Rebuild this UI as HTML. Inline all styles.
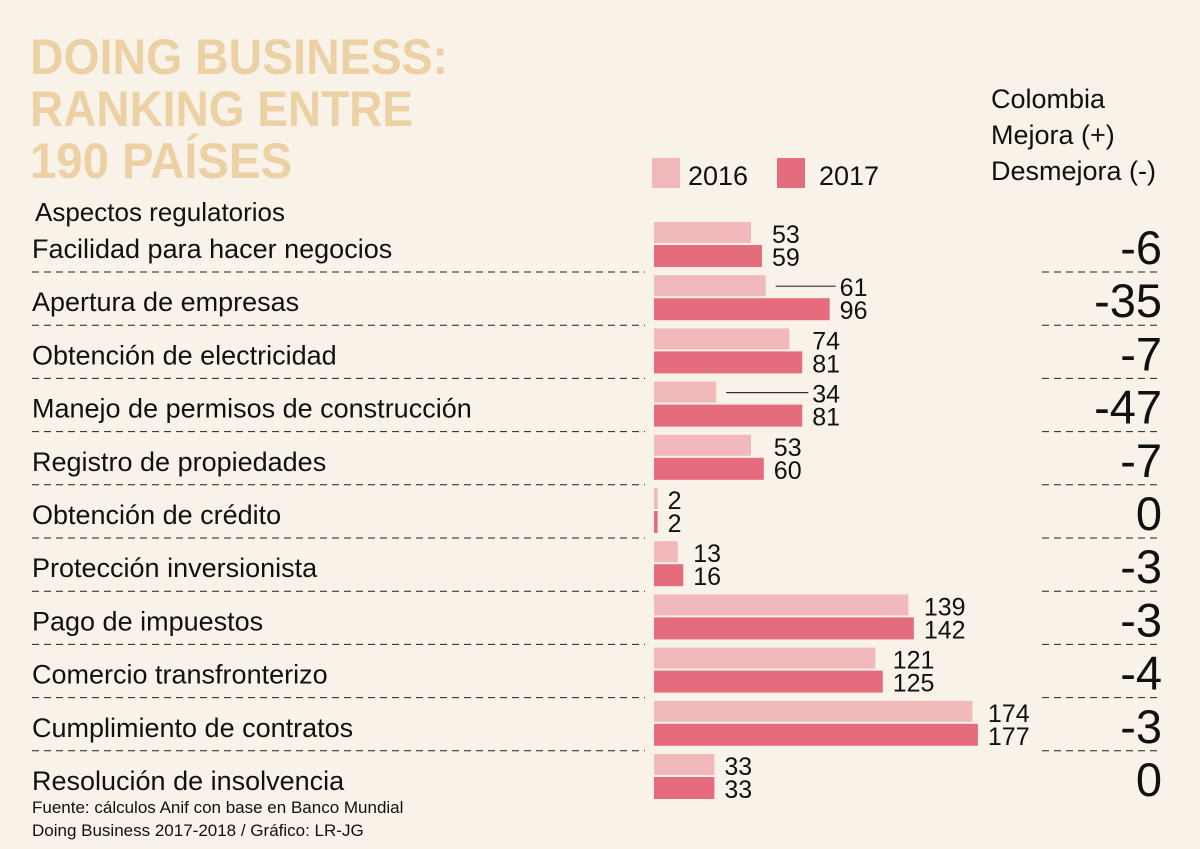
<!DOCTYPE html>
<html><head><meta charset="utf-8"><style>
body{margin:0;background:#f8f2e9}
svg{display:block}
text{font-family:"Liberation Sans",sans-serif;fill:#111}
</style></head><body>
<svg id="c" width="1200" height="849" viewBox="0 0 1200 849">
<rect width="1200" height="849" fill="#f8f2e9"/>
<g>
<text x="30" y="74" font-size="50" textLength="418" lengthAdjust="spacingAndGlyphs" style="fill:#ebd1a3;font-weight:bold">DOING BUSINESS:</text>
<text x="30" y="126" font-size="50" textLength="383" lengthAdjust="spacingAndGlyphs" style="fill:#ebd1a3;font-weight:bold">RANKING ENTRE</text>
<text x="30" y="178" font-size="50" textLength="262" lengthAdjust="spacingAndGlyphs" style="fill:#ebd1a3;font-weight:bold">190 PAÍSES</text>
</g>
<text x="35" y="221" font-size="26">Aspectos regulatorios</text>
<g>
<rect x="652" y="158" width="28" height="30" fill="#f2b9bd"/>
<text x="688" y="185" font-size="27">2016</text>
<rect x="777" y="158" width="28" height="30" fill="#e56c7d"/>
<text x="819" y="185" font-size="27">2017</text>
</g>
<g font-size="27">
<text x="991" y="108">Colombia</text>
<text x="991" y="144">Mejora (+)</text>
<text x="991" y="180">Desmejora (-)</text>
</g>
<g id="rows"></g>
<g font-size="17">
<text x="32" y="813">Fuente: cálculos Anif con base en Banco Mundial</text>
<text x="32" y="836">Doing Business 2017-2018 / Gráfico: LR-JG</text>
</g>
</svg>
<script>
const categories=["Facilidad para hacer negocios","Apertura de empresas","Obtención de electricidad","Manejo de permisos de construcción","Registro de propiedades","Obtención de crédito","Protección inversionista","Pago de impuestos","Comercio transfronterizo","Cumplimiento de contratos","Resolución de insolvencia"];
const values2016=[53,61,74,34,53,2,13,139,121,174,33];
const values2017=[59,96,81,81,60,2,16,142,125,177,33];
const changes=["-6","-35","-7","-47","-7","0","-3","-3","-4","-3","0"];
const NS="http://www.w3.org/2000/svg";
const g=document.getElementById('rows');
const x0=654,k=1.83,y0=222,pitch=53.2;
const xs=v=>x0+v*k;
function el(t,a,txt){const e=document.createElementNS(NS,t);for(const n in a)e.setAttribute(n,a[n]);if(txt!==undefined)e.textContent=txt;g.appendChild(e);return e;}
categories.forEach((c,i)=>{
 const y=y0+i*pitch;
 const lab=el('text',{x:32,y:y+36,'font-size':27},c);
 
 
 const b1=el('rect',{x:x0,y:y,width:Math.max(values2016[i]*k,3),height:21,fill:'#f2b9bd'});
 
 
 const b2=el('rect',{x:x0,y:y+23,width:Math.max(values2017[i]*k,3),height:22,fill:'#e56c7d'});
 
 
 const lx=xs(Math.max(values2016[i],values2017[i]))+10;
 if(lx-xs(values2016[i])>30){
  const ln=el('line',{x1:xs(values2016[i])+10,x2:lx-4,y1:y+11,y2:y+11,stroke:'#333','stroke-width':1.2});
  
  
 }
 const v1=el('text',{x:lx,y:y+21,'font-size':25},values2016[i]);
 
 
 const v2=el('text',{x:lx,y:y+44,'font-size':25},values2017[i]);
 
 
 const ch=el('text',{x:1162,y:y+42,'font-size':47,'text-anchor':'end'},changes[i]);
 
 
 if(i<categories.length-1){
  const d1=el('line',{x1:32,x2:645,y1:y+50,y2:y+50,stroke:'#222','stroke-width':1,'stroke-dasharray':'7,5'});
  
  
  const d2=el('line',{x1:1042,x2:1160,y1:y+50,y2:y+50,stroke:'#222','stroke-width':1,'stroke-dasharray':'7,5'});
  
  
 }
});
</script>
</body></html>
